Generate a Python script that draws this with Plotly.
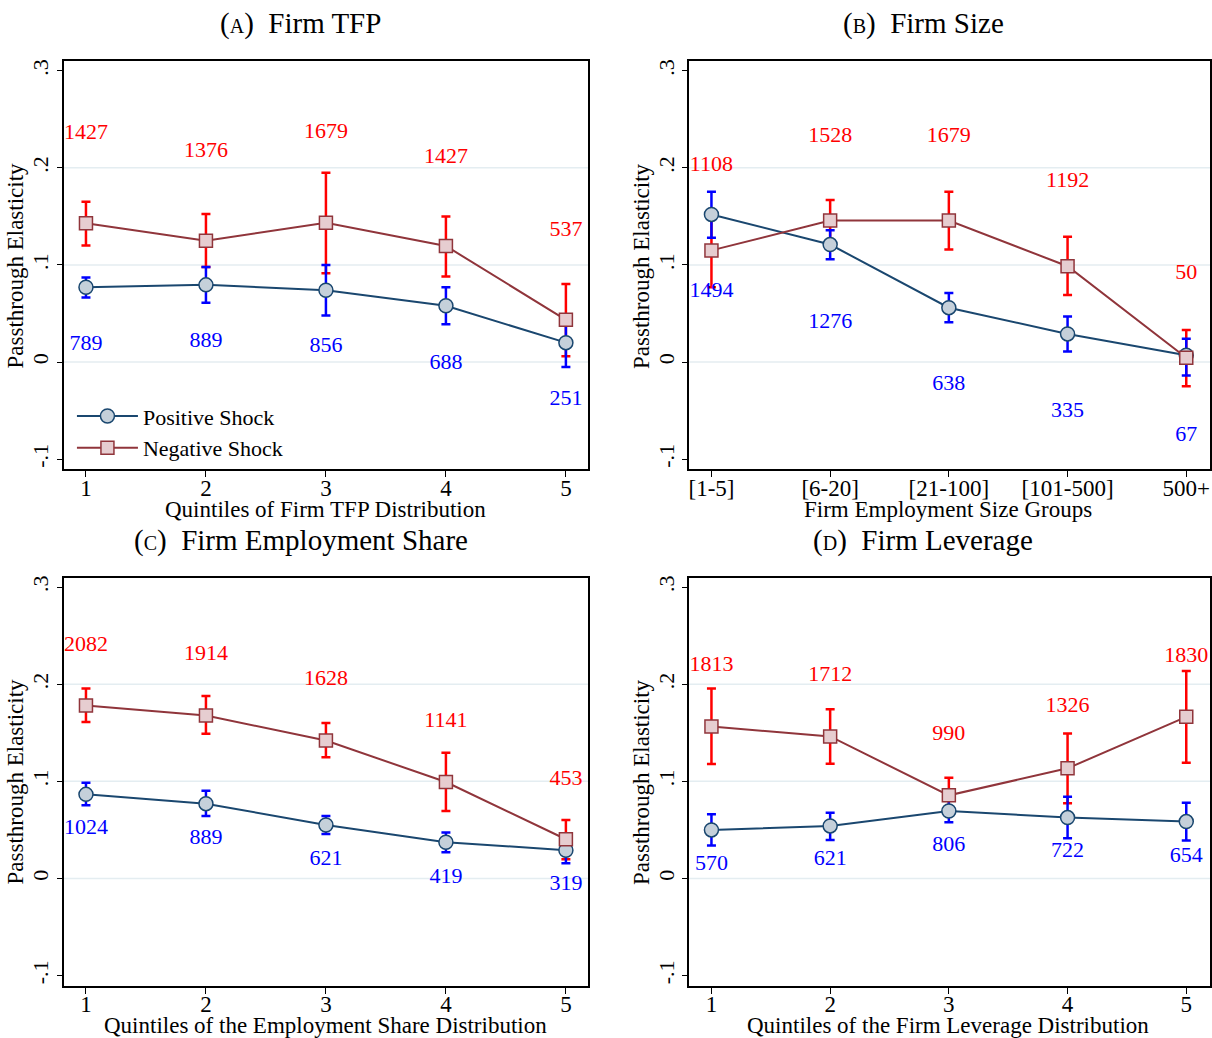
import plotly.graph_objects as go

FONT = "Liberation Serif"

# ---------------- data ----------------
x_pos = [1, 2, 3, 4, 5]
tick_quint = ["1", "2", "3", "4", "5"]
tick_size = ["[1-5]", "[6-20]", "[21-100]", "[101-500]", "500+"]
y_tickvals = [-0.1, 0.0, 0.1, 0.2, 0.3]
y_ticktext = ["-.1", "0", ".1", ".2", ".3"]
grid_vals = [0.0, 0.1, 0.2]

titles = ["(<span style='font-size:20px'>A</span>)  Firm TFP",
          "(<span style='font-size:20px'>B</span>)  Firm Size",
          "(<span style='font-size:20px'>C</span>)  Firm Employment Share",
          "(<span style='font-size:20px'>D</span>)  Firm Leverage"]
x_titles = ["Quintiles of Firm TFP Distribution",
            "Firm Employment Size Groups",
            "Quintiles of the Employment Share Distribution",
            "Quintiles of the Firm Leverage Distribution"]
y_title = "Passthrough Elasticity"
series_names = ["Positive Shock", "Negative Shock"]

# Panel A: Firm TFP
a_pos = [0.077, 0.0795, 0.074, 0.058, 0.020]
a_pos_hi = [0.087, 0.098, 0.100, 0.077, 0.045]
a_pos_lo = [0.0665, 0.061, 0.048, 0.039, -0.005]
a_neg = [0.143, 0.125, 0.1435, 0.1195, 0.0435]
a_neg_hi = [0.165, 0.1525, 0.195, 0.150, 0.0805]
a_neg_lo = [0.120, 0.098, 0.0915, 0.088, 0.006]
a_pos_n = [789, 889, 856, 688, 251]
a_neg_n = [1427, 1376, 1679, 1427, 537]
a_pos_n_y = [0.018, 0.021, 0.016, -0.001, -0.039]
a_neg_n_y = [0.235, 0.217, 0.236, 0.211, 0.135]

# Panel B: Firm Size
b_pos = [0.152, 0.121, 0.056, 0.029, 0.007]
b_pos_hi = [0.1755, 0.1357, 0.071, 0.047, 0.024]
b_pos_lo = [0.128, 0.106, 0.041, 0.011, -0.0137]
b_neg = [0.115, 0.1457, 0.1457, 0.0987, 0.0045]
b_neg_hi = [0.153, 0.167, 0.1755, 0.129, 0.033]
b_neg_lo = [0.077, 0.124, 0.116, 0.069, -0.025]
b_pos_n = [1494, 1276, 638, 335, 67]
b_neg_n = [1108, 1528, 1679, 1192, 50]
b_pos_n_y = [0.0727, 0.0411, -0.0233, -0.0507, -0.0754]
b_neg_n_y = [0.2022, 0.232, 0.232, 0.1864, 0.0915]

# Panel C: Firm Employment Share
c_pos = [0.0866, 0.077, 0.0551, 0.0373, 0.0291]
c_pos_hi = [0.0986, 0.0904, 0.0644, 0.0473, 0.042]
c_pos_lo = [0.0753, 0.0644, 0.0459, 0.027, 0.0158]
c_neg = [0.178, 0.1678, 0.1421, 0.0993, 0.0404]
c_neg_hi = [0.1955, 0.188, 0.160, 0.1295, 0.0603]
c_neg_lo = [0.161, 0.149, 0.1247, 0.0695, 0.0199]
c_pos_n = [1024, 889, 621, 419, 319]
c_neg_n = [2082, 1914, 1628, 1141, 453]
c_pos_n_y = [0.0517, 0.0414, 0.0199, 0.0014, -0.0065]
c_neg_n_y = [0.240, 0.2305, 0.2048, 0.1613, 0.102]

# Panel D: Firm Leverage
d_pos = [0.050, 0.0541, 0.0695, 0.0627, 0.0586]
d_pos_hi = [0.0661, 0.0678, 0.081, 0.0842, 0.078]
d_pos_lo = [0.0339, 0.0397, 0.0579, 0.0413, 0.039]
d_neg = [0.1565, 0.1462, 0.0856, 0.1134, 0.1664]
d_neg_hi = [0.1955, 0.1743, 0.1038, 0.1493, 0.2137]
d_neg_lo = [0.1178, 0.1182, 0.0674, 0.0774, 0.1192]
d_pos_n = [570, 621, 806, 722, 654]
d_neg_n = [1813, 1712, 990, 1326, 1830]
d_pos_n_y = [0.0147, 0.0192, 0.0339, 0.0277, 0.0226]
d_neg_n_y = [0.2188, 0.2089, 0.1483, 0.1767, 0.2288]

panels = [
    dict(pos=a_pos, pos_hi=a_pos_hi, pos_lo=a_pos_lo, neg=a_neg, neg_hi=a_neg_hi, neg_lo=a_neg_lo,
         pos_n=a_pos_n, neg_n=a_neg_n, pos_n_y=a_pos_n_y, neg_n_y=a_neg_n_y, ticks=tick_quint),
    dict(pos=b_pos, pos_hi=b_pos_hi, pos_lo=b_pos_lo, neg=b_neg, neg_hi=b_neg_hi, neg_lo=b_neg_lo,
         pos_n=b_pos_n, neg_n=b_neg_n, pos_n_y=b_pos_n_y, neg_n_y=b_neg_n_y, ticks=tick_size),
    dict(pos=c_pos, pos_hi=c_pos_hi, pos_lo=c_pos_lo, neg=c_neg, neg_hi=c_neg_hi, neg_lo=c_neg_lo,
         pos_n=c_pos_n, neg_n=c_neg_n, pos_n_y=c_pos_n_y, neg_n_y=c_neg_n_y, ticks=tick_quint),
    dict(pos=d_pos, pos_hi=d_pos_hi, pos_lo=d_pos_lo, neg=d_neg, neg_hi=d_neg_hi, neg_lo=d_neg_lo,
         pos_n=d_pos_n, neg_n=d_neg_n, pos_n_y=d_pos_n_y, neg_n_y=d_neg_n_y, ticks=tick_quint),
]

# ---------------- styles / layout ----------------
W, H = 1212, 1038
POS_LINE = "#1a476f"
POS_FILL = "#c5d0da"
NEG_LINE = "#90353b"
NEG_FILL = "#e6cdd0"
POS_CI = "#0000ff"
NEG_CI = "#ff0000"

# plot-area pixel boxes (left, right, top, bottom)
boxes = [(62.7, 587.7, 59.3, 468.3), (688.7, 1210, 59.3, 468.3),
         (62.7, 587.7, 576.7, 985.7), (688.7, 1210, 576.7, 985.7)]
x_ranges = [[0.814, 5.186], [0.812, 5.2], [0.814, 5.186], [0.812, 5.2]]
y_range = [-0.1105, 0.3098]
title_xy = [(300, 22), (923, 22), (300, 540), (923, 540)]
xtitle_xy = [(325, 508), (948, 508), (325, 1025), (948, 1025)]
ytitle_xy = [(15, 264), (641, 264), (15, 781), (641, 781)]

fig = go.Figure()
layout = dict(width=W, height=H, margin=dict(l=0, r=0, t=0, b=0),
              paper_bgcolor="white", plot_bgcolor="white",
              font=dict(family=FONT, color="#000000"),
              showlegend=True,
              legend=dict(x=71 / W, y=1 - 394 / H, xanchor="left", yanchor="top",
                          bgcolor="rgba(0,0,0,0)", font=dict(family=FONT, size=22, color="#000"),
                          tracegroupgap=0, itemwidth=61))
annotations = []
shapes = []

for i, p in enumerate(panels):
    k = "" if i == 0 else str(i + 1)
    xa, ya = "x" + k, "y" + k
    l, r, t, b = boxes[i]
    layout["xaxis" + k] = dict(domain=[l / W, r / W], anchor=ya, range=x_ranges[i],
                               tickvals=x_pos, ticktext=p["ticks"], showline=True, mirror=True,
                               linecolor="#000", linewidth=1.5, ticks="outside", ticklen=6,
                               tickcolor="#000", showgrid=False, zeroline=False,
                               ticklabelstandoff=-9,
                               tickfont=dict(family=FONT, size=23, color="#000"))
    layout["yaxis" + k] = dict(domain=[1 - b / H, 1 - t / H], anchor=xa, range=y_range,
                               tickvals=y_tickvals, ticktext=y_ticktext, tickangle=-90,
                               showline=True, mirror=True, linecolor="#000", linewidth=1.5,
                               ticks="outside", ticklen=5, tickcolor="#000", showgrid=False,
                               zeroline=False, tickfont=dict(family=FONT, size=22, color="#000"))
    for g in grid_vals:
        shapes.append(dict(type="line", xref=xa + " domain", yref=ya, x0=0, x1=1, y0=g, y1=g,
                           line=dict(color="#e4edf1", width=1.5), layer="below"))

    # error bars (red first, then blue)
    fig.add_trace(go.Scatter(
        x=x_pos, y=p["neg"], mode="markers", xaxis=xa, yaxis=ya, showlegend=False,
        marker=dict(size=1, color="rgba(0,0,0,0)"), hoverinfo="skip",
        error_y=dict(type="data", symmetric=False,
                     array=[h - v for h, v in zip(p["neg_hi"], p["neg"])],
                     arrayminus=[v - lo for v, lo in zip(p["neg"], p["neg_lo"])],
                     color=NEG_CI, thickness=2.5, width=4.5)))
    fig.add_trace(go.Scatter(
        x=x_pos, y=p["pos"], mode="markers", xaxis=xa, yaxis=ya, showlegend=False,
        marker=dict(size=1, color="rgba(0,0,0,0)"), hoverinfo="skip",
        error_y=dict(type="data", symmetric=False,
                     array=[h - v for h, v in zip(p["pos_hi"], p["pos"])],
                     arrayminus=[v - lo for v, lo in zip(p["pos"], p["pos_lo"])],
                     color=POS_CI, thickness=2.5, width=4.5)))
    # connected lines
    fig.add_trace(go.Scatter(
        x=x_pos, y=p["pos"], mode="lines+markers", name=series_names[0], xaxis=xa, yaxis=ya,
        showlegend=(i == 0), line=dict(color=POS_LINE, width=2),
        marker=dict(symbol="circle", size=14, color=POS_FILL, line=dict(color=POS_LINE, width=1.5))))
    fig.add_trace(go.Scatter(
        x=x_pos, y=p["neg"], mode="lines+markers", name=series_names[1], xaxis=xa, yaxis=ya,
        showlegend=(i == 0), line=dict(color=NEG_LINE, width=2),
        marker=dict(symbol="square", size=13, color=NEG_FILL, line=dict(color=NEG_LINE, width=1.5))))
    # observation count labels
    fig.add_trace(go.Scatter(
        x=x_pos, y=p["neg_n_y"], mode="text", text=[str(v) for v in p["neg_n"]],
        xaxis=xa, yaxis=ya, showlegend=False, cliponaxis=False, hoverinfo="skip",
        textfont=dict(family=FONT, size=22, color="#ff0000")))
    fig.add_trace(go.Scatter(
        x=x_pos, y=p["pos_n_y"], mode="text", text=[str(v) for v in p["pos_n"]],
        xaxis=xa, yaxis=ya, showlegend=False, cliponaxis=False, hoverinfo="skip",
        textfont=dict(family=FONT, size=22, color="#0000ff")))

    tx, ty = title_xy[i]
    annotations.append(dict(text=titles[i], x=tx / W, y=1 - ty / H, xref="paper", yref="paper",
                            showarrow=False, xanchor="center", yanchor="middle",
                            font=dict(family=FONT, size=29, color="#000")))
    xx, xy = xtitle_xy[i]
    annotations.append(dict(text=x_titles[i], x=xx / W, y=1 - xy / H, xref="paper", yref="paper",
                            showarrow=False, xanchor="center", yanchor="middle",
                            font=dict(family=FONT, size=23, color="#000")))
    yx, yy = ytitle_xy[i]
    annotations.append(dict(text=y_title, x=yx / W, y=1 - yy / H, xref="paper", yref="paper",
                            showarrow=False, xanchor="center", yanchor="middle", textangle=-90,
                            font=dict(family=FONT, size=23, color="#000")))

layout["annotations"] = annotations
layout["shapes"] = shapes
fig.update_layout(**layout)
fig.write_html("out.html")
